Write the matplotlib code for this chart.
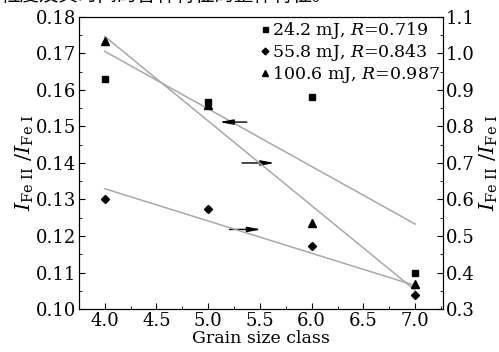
import numpy as np
import matplotlib
matplotlib.use('Agg')
import matplotlib.pyplot as plt

# grain size class and intensity ratios
grain = [4.0, 5.0, 6.0, 7.0]
ratio_24 = [0.163, 0.1567, 0.158, 0.110]    # left axis, 24.2 mJ
ratio_56 = [0.600, 0.575, 0.474, 0.339]     # right axis, 55.8 mJ
ratio_101 = [1.034, 0.858, 0.535, 0.369]    # right axis, 100.6 mJ
labels = ['24.2 mJ, $R$=0.719', '55.8 mJ, $R$=0.843', '100.6 mJ, $R$=0.987']

plt.rcParams['font.family'] = ['DejaVu Serif', 'Noto Sans CJK SC']
plt.rcParams['mathtext.fontset'] = 'dejavuserif'
plt.rcParams['font.size'] = 12

fig = plt.figure(figsize=(4.99, 3.52), dpi=100)
ax = fig.add_axes([0.158, 0.122, 0.73, 0.830])
ax2 = ax.twinx()

# cropped caption line from the page above the figure
fig.text(0.0, 1.012, '粒度及其时间的各种特征的整体特征。', fontsize=14,
         family=['Noto Sans CJK SC'], va='center', ha='left')

x = np.array(grain)
fit_color = '#a8a8a8'
for axis, y in [(ax, ratio_24), (ax2, ratio_56), (ax2, ratio_101)]:
    k, b = np.polyfit(x, y, 1)
    axis.plot([x[0], x[-1]], [k * x[0] + b, k * x[-1] + b], color=fit_color, lw=1.1, zorder=1)

h1, = ax.plot(grain, ratio_24, 's', color='k', ms=4.5, label=labels[0])
h2, = ax2.plot(grain, ratio_56, 'D', color='k', ms=4.3, label=labels[1])
h3, = ax2.plot(grain, ratio_101, '^', color='k', ms=5.5, label=labels[2])

ax.set_xlim(3.75, 7.27)
ax.set_ylim(0.10, 0.18)
ax2.set_ylim(0.3, 1.1)
ax.set_xticks(np.arange(4.0, 7.01, 0.5))
ax.set_xticks(np.arange(3.75, 7.3, 0.25), minor=True)
ax.set_yticks(np.arange(0.10, 0.181, 0.01))
ax.set_yticks(np.arange(0.10, 0.181, 0.005), minor=True)
ax2.set_yticks(np.arange(0.3, 1.11, 0.1))
ax2.set_yticks(np.arange(0.3, 1.11, 0.05), minor=True)
ax.xaxis.set_major_formatter(matplotlib.ticker.FormatStrFormatter('%.1f'))
ax.yaxis.set_major_formatter(matplotlib.ticker.FormatStrFormatter('%.2f'))
ax2.yaxis.set_major_formatter(matplotlib.ticker.FormatStrFormatter('%.1f'))

for a in (ax, ax2):
    a.tick_params(which='major', direction='in', length=4, width=0.8, labelsize=13, pad=2)
    a.tick_params(which='minor', direction='in', length=2, width=0.6)
ax.tick_params(top=False, which='both')

ax.set_xlabel('Grain size class', fontsize=12.5, labelpad=0)
ylab = r'$I_{\mathrm{Fe\ II}}\ /I_{\mathrm{Fe\ I}}$'
ax.set_ylabel(ylab, fontsize=15, labelpad=0)
ax2.set_ylabel(ylab, fontsize=15, rotation=90, labelpad=2)

# arrows showing which axis each fit belongs to
arrow = dict(arrowstyle='-|>,head_length=0.8,head_width=0.15', color='k', lw=1.0, mutation_scale=10)
ax.annotate('', xy=(5.08, 0.1512), xytext=(5.40, 0.1512), arrowprops=arrow)
ax.annotate('', xy=(5.67, 0.1400), xytext=(5.30, 0.1400), arrowprops=arrow)
ax.annotate('', xy=(5.54, 0.1218), xytext=(5.18, 0.1218), arrowprops=arrow)

ax2.legend(handles=[h1, h2, h3], loc='upper right', frameon=False, fontsize=12.5,
           handlelength=0.6, handletextpad=0.1, labelspacing=0.05,
           borderaxespad=0.1, borderpad=0.1, markerscale=0.8)

fig.savefig('out.png', dpi=100)
